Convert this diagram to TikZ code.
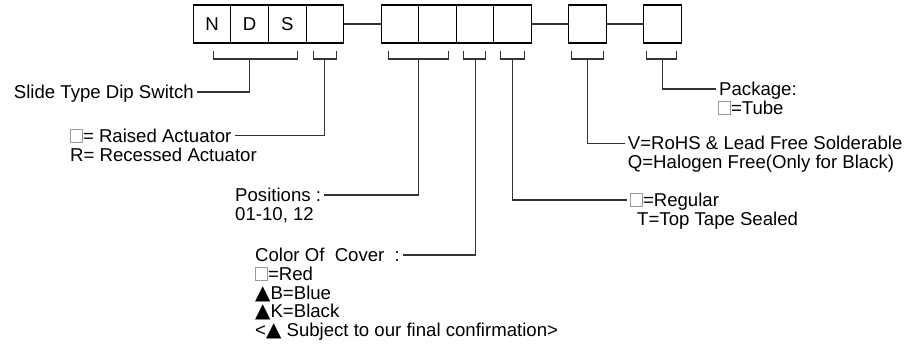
\documentclass[tikz,border=0pt]{standalone}
\usepackage{fontspec}
\setmainfont{Liberation Sans}
\newfontfamily\pnsymfont{DejaVu Sans}
\usetikzlibrary{positioning,calc}
\definecolor{pnwire}{HTML}{333333}
\definecolor{pnblank}{HTML}{9A9A9A}
\newcommand{\blankbox}{\tikz[baseline=0pt]\draw[pnblank, line width=0.8pt] (0,0) rectangle (12pt,13pt);}
\newcommand{\pntri}{{\pnsymfont\fontsize{20pt}{20pt}\selectfont ▲}}
\tikzset{
  codeBox/.style={draw=black, line width=1.1pt, minimum width=37.6pt, minimum height=38pt, inner sep=0pt, outer sep=0pt, font=\fontsize{18.6pt}{18.3pt}\selectfont},
  wire/.style={draw=pnwire, line width=1.1pt},
  codeLabel/.style={font=\fontsize{18.6pt}{18.3pt}\selectfont, inner xsep=3pt, inner ysep=0pt, text height=13.3pt, text depth=0pt}
}
\begin{document}
\begin{tikzpicture}[x=1pt, y=1pt]
  \useasboundingbox (0,0) rectangle (918,-344);

  \node[codeBox] (b1) at (212.1,-24) {N};
  \node[codeBox, right=0pt of b1] (b2) {D};
  \node[codeBox, right=0pt of b2] (b3) {S};
  \node[codeBox, right=0pt of b3] (b4) {};
  \node[codeBox, right=37.4pt of b4] (b5) {};
  \node[codeBox, right=0pt of b5] (b6) {};
  \node[codeBox, right=0pt of b6] (b7) {};
  \node[codeBox, right=0pt of b7] (b8) {};
  \node[codeBox, right=37.4pt of b8] (b9) {};
  \node[codeBox, right=37.4pt of b9] (b10) {};

  \draw[wire] (b4) -- (b5);
  \draw[wire] (b8) -- (b9);
  \draw[wire] (b9) -- (b10);

  \node[codeLabel, anchor=east] (slide) at (197,-92) {Slide Type Dip Switch};
  \node[codeLabel, anchor=west] (raised) at (67,-135.7) {\blankbox= Raised Actuator};
  \node[codeLabel, below right=5pt and 0pt of raised.south west] (recessed) {R= Recessed Actuator};
  \node[codeLabel, anchor=west] (positions) at (232,-195) {Positions :};
  \node[codeLabel, below right=5pt and 0pt of positions.south west] (range) {01-10, 12};
  \node[codeLabel, anchor=west] (cover) at (252,-255) {Color Of\ \ Cover\ \ :};
  \node[codeLabel, below right=5pt and 0pt of cover.south west] (red) {\blankbox=Red};
  \node[codeLabel, below right=5pt and 0pt of red.south west] (blue) {\pntri B=Blue};
  \node[codeLabel, below right=5pt and 0pt of blue.south west] (black) {\pntri K=Black};
  \node[codeLabel, below right=5pt and 0pt of black.south west] (confirm) {<\pntri\ Subject to our final confirmation>};
  \node[codeLabel, anchor=west] (regular) at (627,-200) {\blankbox=Regular};
  \node[codeLabel, below right=5pt and 7pt of regular.south west] (tape) {T=Top Tape Sealed};
  \node[codeLabel, anchor=west] (rohs) at (624.7,-143.3) {V=RoHS \& Lead Free Solderable};
  \node[codeLabel, below right=5pt and 0pt of rohs.south west] (halogen) {Q=Halogen Free(Only for Black)};
  \node[codeLabel, anchor=west] (package) at (716,-89) {Package:};
  \node[codeLabel, below right=5pt and -1pt of package.south west] (tube) {\blankbox=Tube};

  \coordinate (typeTap) at ([yshift=-16pt]b2.south);
  \coordinate (actTap) at ([yshift=-16pt]b4.south);
  \coordinate (posTap) at ([yshift=-16pt]b5.south east);
  \coordinate (coverTap) at ([yshift=-16pt]b7.south);
  \coordinate (tapeTap) at ([yshift=-16pt]b8.south);
  \coordinate (rohsTap) at ([yshift=-16pt]b9.south);
  \coordinate (packTap) at ([yshift=-16pt]b10.south);

  \draw[wire] ([xshift=20pt,yshift=-8pt]b1.south west) |- (typeTap) -| ([xshift=-9pt,yshift=-8pt]b3.south east);
  \draw[wire] ([xshift=7.5pt,yshift=-8pt]b4.south west) |- (actTap) -| ([xshift=-7.5pt,yshift=-8pt]b4.south east);
  \draw[wire] ([xshift=7.5pt,yshift=-8pt]b5.south west) |- (posTap) -| ([xshift=-8pt,yshift=-8pt]b6.south east);
  \draw[wire] ([xshift=7.5pt,yshift=-8pt]b7.south west) |- (coverTap) -| ([xshift=-8.5pt,yshift=-8pt]b7.south east);
  \draw[wire] ([xshift=6.5pt,yshift=-8pt]b8.south west) |- (tapeTap) -| ([xshift=-7pt,yshift=-8pt]b8.south east);
  \draw[wire] ([xshift=3pt,yshift=-8pt]b9.south west) |- (rohsTap) -| ([xshift=-3pt,yshift=-8pt]b9.south east);
  \draw[wire] ([xshift=2.5pt,yshift=-8pt]b10.south west) |- (packTap) -| ([xshift=-5pt,yshift=-8pt]b10.south east);

  \draw[wire] (typeTap) |- (slide.east);
  \draw[wire] (actTap) |- (raised.east);
  \draw[wire] (posTap) |- (positions.east);
  \draw[wire] (coverTap) |- (cover.east);
  \draw[wire] (tapeTap) |- (regular.west);
  \draw[wire] (rohsTap) |- (rohs.west);
  \draw[wire] (packTap) |- (package.west);
\end{tikzpicture}
\end{document}
